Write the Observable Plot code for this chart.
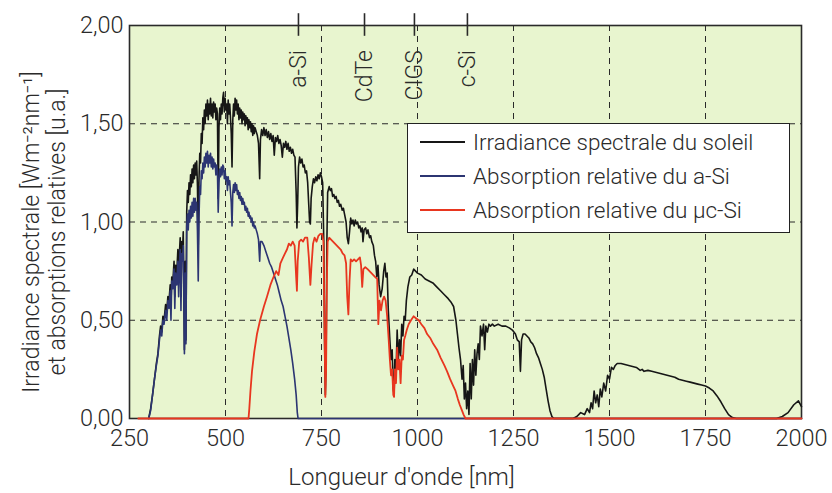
<!DOCTYPE html>
<html>
<head>
<meta charset="utf-8">
<script src="https://cdn.jsdelivr.net/npm/d3@7"></script>
<script src="https://cdn.jsdelivr.net/npm/@observablehq/plot@0.6"></script>
<style>
  html, body { margin: 0; padding: 0; background: #fff; }
  #wrap { position: relative; width: 832px; height: 493px; font-family: Roboto, "Liberation Sans", sans-serif; font-weight: 300; color: #2a2a2a; }
  #legend { position: absolute; background: #fff; border: 1.5px solid #222; box-sizing: border-box; }
  .row { position: absolute; left: 0; height: 30px; display: flex; align-items: center; font-size: 22.5px; white-space: nowrap; }
  .sw { display: inline-block; width: 45px; height: 0; border-top: 2px solid; margin-left: 12px; margin-right: 8px; }
</style>
</head>
<body>
<div id="wrap"></div>
<script>
// ---- data ----
const xTicks = [250, 500, 750, 1000, 1250, 1500, 1750, 2000];
const yTicks = [0, 0.5, 1.0, 1.5, 2.0];
const markerNm = [690, 862, 992, 1130];
const markerLabels = ["a-Si", "CdTe", "CIGS", "c-Si"];
const seriesNames = ["Irradiance spectrale du soleil", "Absorption relative du a-Si", "Absorption relative du µc-Si"];
const seriesColors = ["#161616", "#2c3572", "#e8361f"];

// solar spectral irradiance [nm, W m-2 nm-1]
const sun = [[300,0],[305,0.05],[310,0.12],[315,0.2],[320,0.28],[324,0.33],[328,0.42],[331,0.47],[334,0.44],[337,0.52],[340,0.5],[344,0.58],[347,0.55],[350,0.62],[353,0.6],[356,0.68],[358,0.58],[360,0.72],[363,0.7],[366,0.8],[368,0.62],[370,0.78],[373,0.74],[376,0.86],[378,0.7],[380,0.84],[382,0.92],[384,0.62],[386,0.9],[388,0.85],[390,0.95],[393,0.35],[395,0.8],[397,0.4],
[399,1.05],[401,1.16],[403,1.1],[405,1.2],[407,1.14],[409,1.24],[411,1.18],[413,1.27],[415,1.2],[417,1.29],[419,1.22],[421,1.3],[423,1.24],[425,1.31],[427,1.18],[429,0.88],[431,1.22],[433,1.35],[435,1.3],[437,1.45],[439,1.4],[441,1.53],[443,1.47],[445,1.57],[447,1.5],[449,1.6],[451,1.54],[453,1.62],[455,1.52],[457,1.6],[459,1.55],[461,1.63],[463,1.54],[465,1.6],[467,1.53],[469,1.61],[471,1.56],[473,1.6],[475,1.52],[477,1.58],[479,1.55],[481,1.12],[483,1.48],[485,1.58],[487,1.52],[489,1.6],[491,1.55],[493,1.63],[495,1.66],[497,1.56],[499,1.63],[501,1.57],[503,1.6],[505,1.5],[507,1.62],[509,1.55],[511,1.6],[513,1.53],[515,1.45],[517,1.28],[519,1.52],[521,1.6],[523,1.54],[525,1.63],[527,1.57],[529,1.62],[531,1.55],[533,1.6],[535,1.52],[537,1.58],[539,1.53],[541,1.57],[543,1.5],[545,1.56],[547,1.52],[549,1.55],[551,1.49],[553,1.54],[555,1.5],[557,1.53],[559,1.47],[561,1.52],[563,1.48],[565,1.51],[567,1.46],[569,1.5],[571,1.44],[573,1.49],[575,1.45],[577,1.48],[580,1.46],[583,1.44],[586,1.4],[589,1.22],[591,1.42],[594,1.47],[597,1.44],[600,1.48],[603,1.44],[606,1.47],[609,1.43],[612,1.46],[615,1.42],[618,1.45],[621,1.41],[624,1.44],[627,1.34],[630,1.43],[633,1.41],[636,1.44],[639,1.4],[642,1.42],[645,1.39],[648,1.33],[651,1.4],[654,1.38],[657,1.41],[660,1.37],[663,1.4],[666,1.36],[669,1.38],[672,1.35],[675,1.37],[678,1.34],[681,1.33],[684,1.15],[686,0.97],[688,1.1],[690,1.28],[693,1.33],[696,1.3],[699,1.32],[702,1.28],[705,1.29],[708,1.25],[711,1.26],[714,1.2],[717,1.08],[719,1.0],[721,0.99],[723,1.12],[726,1.18],[729,1.22],[732,1.2],[735,1.23],[738,1.21],[741,1.24],[744,1.22],[747,1.25],[750,1.23],[753,1.2],[756,0.9],[758,0.4],[760,0.12],[762,0.3],[764,0.9],[766,1.15],
[770,1.18],[773,1.16],[776,1.17],[779,1.13],[782,1.14],[785,1.12],[788,1.13],[791,1.1],[794,1.11],[797,1.08],[800,1.09],[804,1.06],[807,1.07],[810,1.04],[814,1.0],[817,0.92],[820,0.89],[823,0.95],[826,1.02],[829,0.99],[832,1.01],[835,0.98],[838,1.01],[841,0.99],[844,1.0],[847,0.97],[850,0.98],[853,0.95],[856,0.97],[858,0.9],[861,0.96],[865,0.97],[868,0.94],[871,0.96],[875,0.92],[878,0.93],[881,0.9],[885,0.88],[888,0.83],[891,0.8],[894,0.72],[897,0.78],[900,0.68],[904,0.62],[908,0.66],[912,0.75],[915,0.79],[918,0.72],[921,0.74],[924,0.55],[928,0.4],[931,0.3],[934,0.35],[937,0.15],[939,0.12],[941,0.3],[944,0.22],[947,0.45],[950,0.3],[953,0.4],[956,0.32],[959,0.48],[962,0.42],[965,0.52],[968,0.5],[971,0.6],[975,0.67],[980,0.72],[985,0.73],[990,0.76],[995,0.75],[1000,0.74],[1010,0.73],[1020,0.71],[1030,0.7],[1040,0.69],[1050,0.67],[1060,0.65],[1070,0.63],[1080,0.61],[1088,0.59],[1094,0.57],[1100,0.5],[1104,0.43],[1108,0.36],[1112,0.3],[1116,0.2],[1119,0.27],[1122,0.1],[1125,0.18],[1128,0.05],[1131,0.14],[1134,0.02],[1137,0.28],[1140,0.1],[1143,0.3],[1146,0.17],[1149,0.35],[1152,0.22],[1155,0.33],[1158,0.38],[1161,0.3],[1164,0.47],[1168,0.42],[1172,0.48],[1175,0.35],[1178,0.47],[1182,0.44],[1186,0.48],[1190,0.47],[1195,0.48],[1200,0.47],[1210,0.48],[1220,0.47],[1230,0.47],[1240,0.46],[1247,0.45],[1255,0.43],[1260,0.4],[1265,0.39],[1268,0.24],[1271,0.4],[1275,0.43],[1280,0.43],[1285,0.42],[1290,0.41],[1295,0.39],[1300,0.38],[1305,0.36],[1310,0.33],[1315,0.31],[1320,0.28],[1325,0.25],[1330,0.21],[1335,0.15],[1340,0.09],[1345,0.04],[1350,0.01],[1355,0],[1405,0],[1415,0.01],[1425,0.03],[1435,0.02],[1442,0.05],[1448,0.03],[1452,0.08],[1456,0.05],[1460,0.14],[1464,0.08],[1468,0.12],[1472,0.06],[1476,0.15],[1480,0.11],[1485,0.18],[1490,0.14],[1495,0.22],[1500,0.2],[1505,0.26],[1510,0.25],[1515,0.27],[1520,0.28],[1530,0.28],[1540,0.275],[1550,0.27],[1560,0.265],[1570,0.26],[1580,0.245],[1585,0.25],[1590,0.24],[1600,0.245],[1610,0.24],[1620,0.235],[1630,0.23],[1640,0.225],[1650,0.22],[1660,0.215],[1670,0.21],[1680,0.2],[1690,0.195],[1700,0.19],[1710,0.185],[1720,0.18],[1730,0.175],[1740,0.17],[1750,0.165],[1760,0.155],[1770,0.14],[1780,0.115],[1790,0.085],[1800,0.05],[1810,0.02],[1820,0.005],[1830,0],[1935,0],[1950,0.01],[1965,0.03],[1980,0.07],[1992,0.09],[2000,0.06]];

// relative absorption of a-Si [nm, a.u.]
const aSi = [[300,0],[305,0.04],[310,0.12],[315,0.2],[320,0.27],[324,0.32],[328,0.4],[331,0.45],[334,0.42],[337,0.5],[340,0.48],[344,0.55],[347,0.5],[350,0.6],[353,0.56],[356,0.65],[358,0.5],[360,0.7],[363,0.66],[366,0.76],[368,0.56],[370,0.74],[373,0.68],[376,0.8],[378,0.62],[380,0.78],[382,0.86],[384,0.55],[386,0.84],[388,0.8],[390,0.88],[393,0.33],[395,0.74],[397,0.38],
[399,0.98],[401,1.04],[403,0.96],[405,1.06],[407,1.0],[409,1.08],[411,1.02],[413,1.1],[415,1.03],[417,1.12],[419,1.05],[421,1.12],[423,1.06],[425,1.1],[427,0.95],[429,0.7],[431,1.02],[433,1.18],[435,1.14],[437,1.26],[439,1.22],[441,1.3],[443,1.25],[445,1.33],[447,1.28],[449,1.35],[451,1.3],[453,1.36],[455,1.28],[457,1.34],[459,1.3],[461,1.35],[463,1.28],[465,1.33],[467,1.27],[469,1.32],[471,1.28],[473,1.3],[475,1.24],[477,1.29],[479,1.26],[481,1.05],[483,1.2],[485,1.27],[487,1.23],[489,1.28],[491,1.24],[493,1.29],[495,1.28],[497,1.22],[499,1.26],[501,1.21],[503,1.23],[505,1.16],[507,1.23],[509,1.19],[511,1.21],[513,1.15],[515,1.1],[517,0.98],[519,1.15],[521,1.19],[523,1.15],[525,1.2],[527,1.16],[529,1.19],[531,1.14],[533,1.16],[535,1.12],[537,1.15],[539,1.11],[541,1.13],[543,1.09],[545,1.12],[547,1.09],[549,1.1],[551,1.06],[553,1.08],[555,1.05],[557,1.07],[559,1.03],[561,1.05],[563,1.02],[565,1.03],[567,1.0],[569,1.02],[571,0.98],[573,1.0],[575,0.97],[577,0.98],[580,0.96],[583,0.94],[586,0.91],[589,0.8],[591,0.9],[595,0.9],[600,0.88],[605,0.85],[610,0.82],[615,0.79],[620,0.77],[625,0.74],[630,0.71],[635,0.68],[640,0.64],[645,0.6],[650,0.57],[655,0.52],[660,0.47],[665,0.41],[670,0.35],[675,0.28],[680,0.2],[684,0.12],[687,0.03],[689,0],[2000,0]];

// relative absorption of µc-Si [nm, a.u.]
const ucSi = [[273,0],[560,0],[562,0.05],[565,0.14],[569,0.24],[575,0.34],[582,0.43],[590,0.5],[600,0.57],[608,0.62],[617,0.68],[625,0.72],[632,0.75],[638,0.73],[643,0.79],[650,0.82],[655,0.84],[660,0.86],[665,0.89],[670,0.88],[675,0.9],[680,0.88],[684,0.72],[686,0.65],[688,0.8],[692,0.9],[697,0.91],[702,0.9],[707,0.92],[713,0.92],[717,0.82],[721,0.68],[724,0.78],[728,0.89],[732,0.92],[737,0.9],[742,0.93],[747,0.94],[752,0.94],[755,0.9],[757,0.6],[760,0.11],[762,0.25],[764,0.7],[766,0.9],[770,0.92],[775,0.91],[780,0.9],[785,0.89],[790,0.88],[795,0.87],[800,0.86],[805,0.84],[810,0.83],[814,0.79],[817,0.62],[820,0.53],[823,0.7],[826,0.81],[830,0.8],[835,0.81],[840,0.8],[845,0.81],[850,0.82],[853,0.78],[856,0.67],[859,0.76],[864,0.77],[870,0.76],[875,0.75],[880,0.74],[885,0.73],[890,0.72],[895,0.71],[898,0.48],[901,0.6],[905,0.55],[909,0.6],[913,0.62],[917,0.6],[921,0.52],[925,0.4],[928,0.3],[931,0.22],[934,0.25],[937,0.12],[939,0.11],[941,0.25],[944,0.18],[947,0.36],[950,0.25],[953,0.3],[956,0.18],[959,0.32],[962,0.3],[965,0.4],[968,0.42],[972,0.45],[977,0.48],[983,0.5],[990,0.52],[996,0.51],[1003,0.5],[1010,0.48],[1018,0.46],[1025,0.43],[1033,0.41],[1041,0.38],[1051,0.35],[1060,0.31],[1070,0.27],[1077,0.24],[1085,0.2],[1092,0.17],[1099,0.14],[1105,0.1],[1110,0.07],[1116,0.04],[1120,0.02],[1125,0],[2000,0]];

const fmt = d => d.toFixed(2).replace(".", ",");
const markers = markerNm.map((x, i) => ({x, label: markerLabels[i]}));
const font = "Roboto, 'Liberation Sans', sans-serif";
const ink = "#2a2a2a";

const chart = Plot.plot({
  width: 832,
  height: 493,
  marginLeft: 129,
  marginRight: 31,
  marginTop: 25,
  marginBottom: 75,
  style: {fontFamily: font, fontWeight: 300, fontSize: "23.5px", color: ink, background: "transparent", overflow: "visible"},
  x: {domain: [250, 2000]},
  y: {domain: [0, 2]},
  marks: [
    Plot.frame({fill: "#e8f5cf", stroke: null}),
    Plot.gridX(xTicks.slice(1, -1), {stroke: ink, strokeOpacity: 1, strokeWidth: 1, strokeDasharray: "6,5"}),
    Plot.gridY(yTicks.slice(1, -1), {stroke: ink, strokeOpacity: 1, strokeWidth: 1, strokeDasharray: "6,5"}),
    Plot.frame({stroke: ink, strokeWidth: 1.6}),
    Plot.axisX(xTicks, {tickSize: 0, tickPadding: 11, tickFormat: d => String(d), fontSize: 23.5, label: null}),
    Plot.axisY(yTicks, {tickSize: 0, tickPadding: 6, tickFormat: fmt, fontSize: 23.5, label: null}),
    Plot.line(sun, {x: d => d[0], y: d => d[1], stroke: seriesColors[0], strokeWidth: 1.6, strokeLinejoin: "round"}),
    Plot.line(aSi, {x: d => d[0], y: d => d[1], stroke: seriesColors[1], strokeWidth: 1.6, strokeLinejoin: "round"}),
    Plot.line(ucSi, {x: d => d[0], y: d => d[1], stroke: seriesColors[2], strokeWidth: 1.8, strokeLinejoin: "round"}),
    Plot.ruleX(markers, {x: "x", y1: 1.945, y2: 2.06, stroke: ink, strokeWidth: 1.6}),
    Plot.text(markers, {x: "x", y: 1.875, text: "label", rotate: -90, textAnchor: "end", lineAnchor: "middle", fontSize: 23, fill: ink}),
    Plot.text(["Irradiance spectrale [Wm⁻²nm⁻¹]\net absorptions relatives [u.a.]"], {frameAnchor: "left", rotate: -90, dx: -86, dy: 10, lineAnchor: "middle", textAnchor: "middle", fontSize: 23, lineHeight: 1.15, fill: ink}),
    Plot.text(["Longueur d'onde [nm]"], {frameAnchor: "bottom", dx: -64, dy: 59, lineAnchor: "middle", fontSize: 24, fill: ink})
  ]
});

const wrap = document.getElementById("wrap");
wrap.appendChild(chart);

// legend overlay
const legend = document.createElement("div");
legend.id = "legend";
Object.assign(legend.style, {left: "407px", top: "123px", width: "383px", height: "110px"});
const rowTops = [3, 37, 71];
seriesNames.forEach((name, i) => {
  const row = document.createElement("div");
  row.className = "row";
  row.style.top = rowTops[i] + "px";
  const sw = document.createElement("span");
  sw.className = "sw";
  sw.style.borderColor = seriesColors[i];
  const t = document.createElement("span");
  t.textContent = name;
  row.appendChild(sw);
  row.appendChild(t);
  legend.appendChild(row);
});
wrap.appendChild(legend);
</script>
</body>
</html>
